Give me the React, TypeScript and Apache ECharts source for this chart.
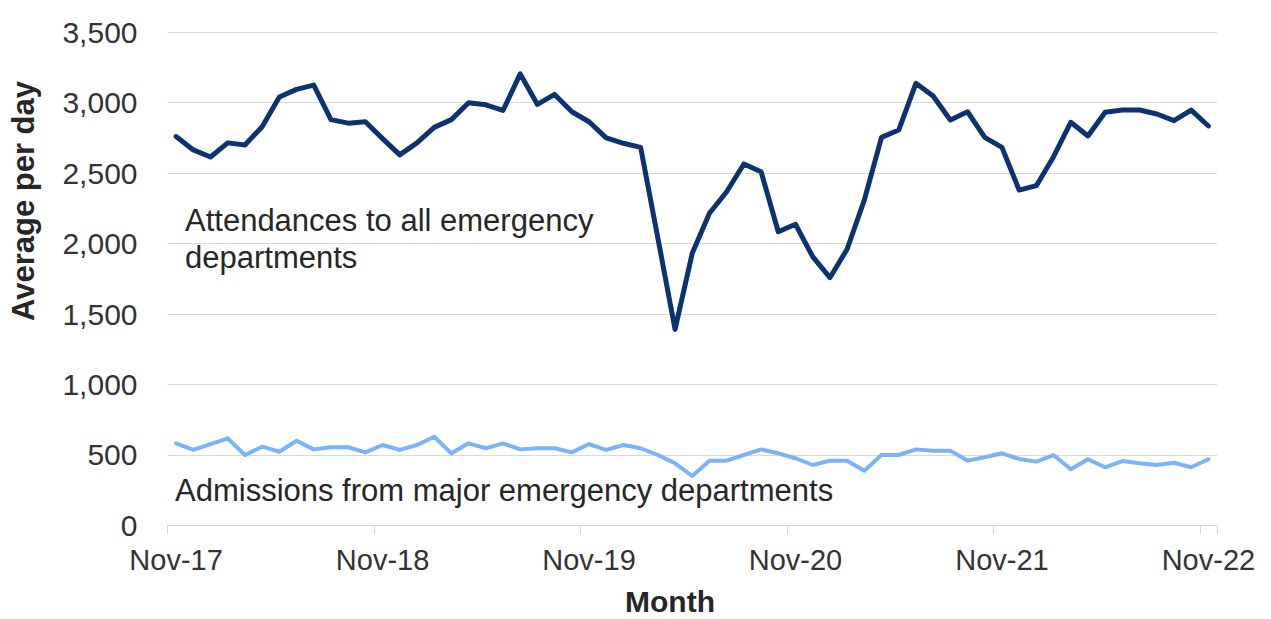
import React, { useEffect, useRef } from "react";
import * as echarts from "echarts";

const monthNames = ["Jan", "Feb", "Mar", "Apr", "May", "Jun", "Jul", "Aug", "Sep", "Oct", "Nov", "Dec"];

// Monthly categories Nov-17 .. Nov-22
const categories: string[] = [];
for (let i = 0; i < 61; i++) {
  const m = (10 + i) % 12;
  const y = 17 + Math.floor((10 + i) / 12);
  categories.push(`${monthNames[m]}-${y}`);
}

const attendances = [
  2760, 2665, 2615, 2715, 2700, 2830, 3040, 3095, 3125, 2880, 2855, 2865,
  2745, 2630, 2715, 2825, 2880, 3000, 2985, 2945, 3205, 2988, 3059, 2936,
  2865, 2751, 2712, 2683, 2040, 1391, 1931, 2215, 2368, 2565, 2510, 2084,
  2137, 1907, 1758, 1960, 2309, 2754, 2806, 3138, 3048, 2877, 2936, 2754,
  2683, 2380, 2411, 2617, 2861, 2764, 2932, 2948, 2948, 2920, 2873, 2948,
  2835,
];

const admissions = [
  582, 535, 577, 617, 499, 558, 522, 600, 539, 554, 554, 518,
  570, 535, 570, 629, 511, 582, 547, 582, 539, 547, 547, 518,
  577, 535, 570, 547, 499, 440, 350, 459, 459, 499, 539, 511,
  476, 428, 459, 459, 388, 499, 499, 539, 530, 530, 459, 483,
  511, 471, 452, 499, 398, 469, 412, 456, 440, 428, 444, 412,
  469,
];

const yMin = 0;
const yMax = 3500;
const yStep = 500;

const seriesNames = ["Attendances to all emergency departments", "Admissions from major emergency departments"];
const yTitle = "Average per day";
const xTitle = "Month";

const FONT = "'Liberation Sans', Arial, sans-serif";

export default function App() {
  const ref = useRef<HTMLDivElement>(null);

  useEffect(() => {
    if (!ref.current) return;
    const chart = echarts.init(ref.current, null, { renderer: "svg" });
    chart.setOption({
      animation: false,
      backgroundColor: "#ffffff",
      grid: { left: 167.5, right: 54, top: 32.3, bottom: 93.7, containLabel: false },
      xAxis: {
        type: "category",
        data: categories,
        boundaryGap: true,
        axisLine: { show: true, lineStyle: { color: "#d9d9d9", width: 1 } },
        axisTick: { show: true, interval: 11, length: 9, lineStyle: { color: "#d9d9d9", width: 1 } },
        axisLabel: {
          interval: 11,
          margin: 20,
          fontSize: 29,
          color: "#333333",
          fontFamily: FONT,
        },
        splitLine: { show: false },
      },
      yAxis: {
        type: "value",
        min: yMin,
        max: yMax,
        interval: yStep,
        axisLine: { show: false },
        axisTick: { show: false },
        axisLabel: {
          margin: 30,
          fontSize: 30,
          color: "#333333",
          fontFamily: FONT,
          formatter: (v: number) => v.toLocaleString("en-US"),
        },
        splitLine: { show: true, lineStyle: { color: "#d9d9d9", width: 1 } },
      },
      series: [
        {
          name: seriesNames[0],
          type: "line",
          data: attendances,
          symbol: "none",
          lineStyle: { color: "#0c3370", width: 5, cap: "round", join: "round" },
          itemStyle: { color: "#0c3370" },
          z: 3,
        },
        {
          name: seriesNames[1],
          type: "line",
          data: admissions,
          symbol: "none",
          lineStyle: { color: "#7ab3fc", width: 4, cap: "round", join: "round" },
          itemStyle: { color: "#7ab3fc" },
          z: 2,
        },
      ],
      graphic: [
        {
          type: "text",
          left: 185,
          top: 202,
          style: {
            text: "Attendances to all emergency\ndepartments",
            font: `31px ${FONT}`,
            fill: "#262626",
            lineHeight: 37,
          },
        },
        {
          type: "text",
          left: 175,
          top: 472,
          style: {
            text: seriesNames[1],
            font: `31px ${FONT}`,
            fill: "#262626",
            lineHeight: 36,
          },
        },
        {
          type: "text",
          x: 23,
          y: 201,
          rotation: Math.PI / 2,
          style: {
            text: yTitle,
            font: `bold 31px ${FONT}`,
            fill: "#262626",
            align: "center",
            verticalAlign: "middle",
          },
        },
        {
          type: "text",
          x: 670,
          y: 601,
          style: {
            text: xTitle,
            font: `bold 30px ${FONT}`,
            fill: "#262626",
            align: "center",
            verticalAlign: "middle",
          },
        },
      ],
    });
    return () => chart.dispose();
  }, []);

  return (
    <div
      ref={ref}
      style={{ position: "fixed", left: 0, top: 0, width: 1271, height: 619, background: "#fff" }}
    />
  );
}
